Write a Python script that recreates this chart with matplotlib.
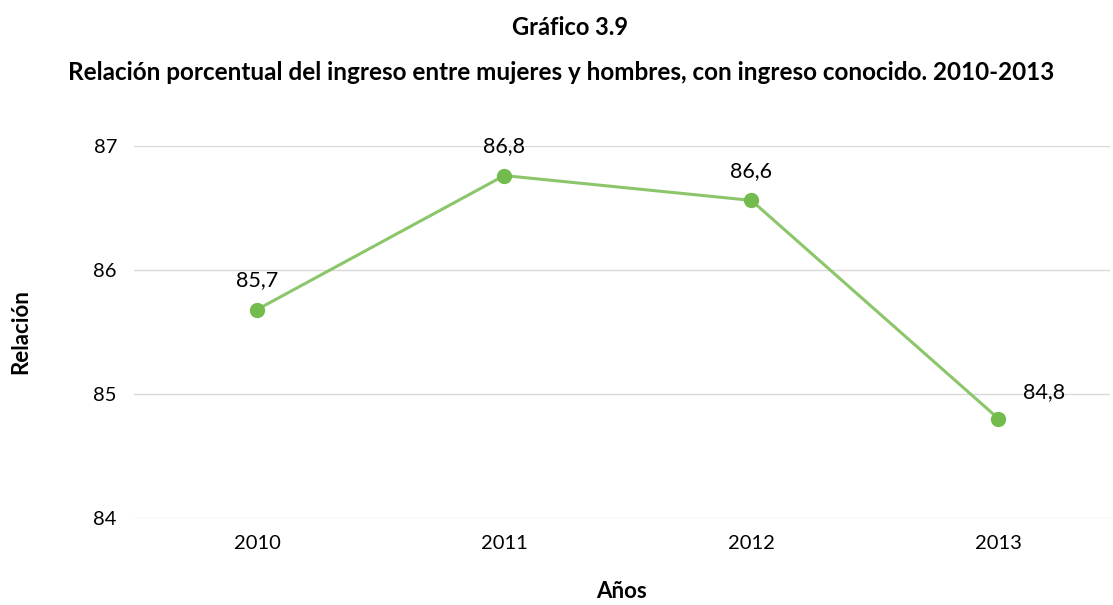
import matplotlib
matplotlib.use("Agg")
import matplotlib.pyplot as plt

years = ["2010", "2011", "2012", "2013"]
relacion = [85.68, 86.76, 86.56, 84.80]
etiquetas = ["85,7", "86,8", "86,6", "84,8"]
yticks = [84, 85, 86, 87]

plt.rcParams['font.family'] = ['Lato', 'DejaVu Sans']

fig = plt.figure(figsize=(11.13, 6.05), dpi=100)
ax = fig.add_axes([0.120, 0.144, 0.877, 0.615])

x = range(len(years))
ax.plot(x, relacion, color='#8cc66a', linewidth=2.2, marker='o', markersize=10,
        markerfacecolor='#72bb4c', markeredgecolor='#72bb4c', zorder=3)

for i, (v, t) in enumerate(zip(relacion, etiquetas)):
    if i == len(years) - 1:
        ax.annotate(t, (i, v), xytext=(18, 12), textcoords='offset points',
                    ha='left', va='bottom', fontsize=15.5)
    else:
        ax.annotate(t, (i, v), xytext=(0, 14), textcoords='offset points',
                    ha='center', va='bottom', fontsize=15.5)

ax.set_ylim(84, 87)
ax.set_xlim(-0.5, 3.45)
ax.set_yticks(yticks)
ax.set_yticklabels([str(t) for t in yticks], fontsize=14.5)
ax.set_xticks(list(x))
ax.set_xticklabels(years, fontsize=14.5)
ax.grid(axis='y', color='#d9d9d9', linewidth=1)
ax.set_axisbelow(True)
for s in ax.spines.values():
    s.set_visible(False)
ax.tick_params(length=0, pad=12)

ax.set_ylabel('Relación', fontsize=16, fontweight='bold', labelpad=45)
ax.set_xlabel('Años', fontsize=16, fontweight='bold', labelpad=21)

fig.text(0.512, 0.955, 'Gráfico 3.9', ha='center', va='center', fontsize=17, fontweight='bold')
fig.text(0.504, 0.88, 'Relación porcentual del ingreso entre mujeres y hombres, con ingreso conocido. 2010-2013',
         ha='center', va='center', fontsize=17.5, fontweight='bold')

fig.savefig('out.png', dpi=100)
